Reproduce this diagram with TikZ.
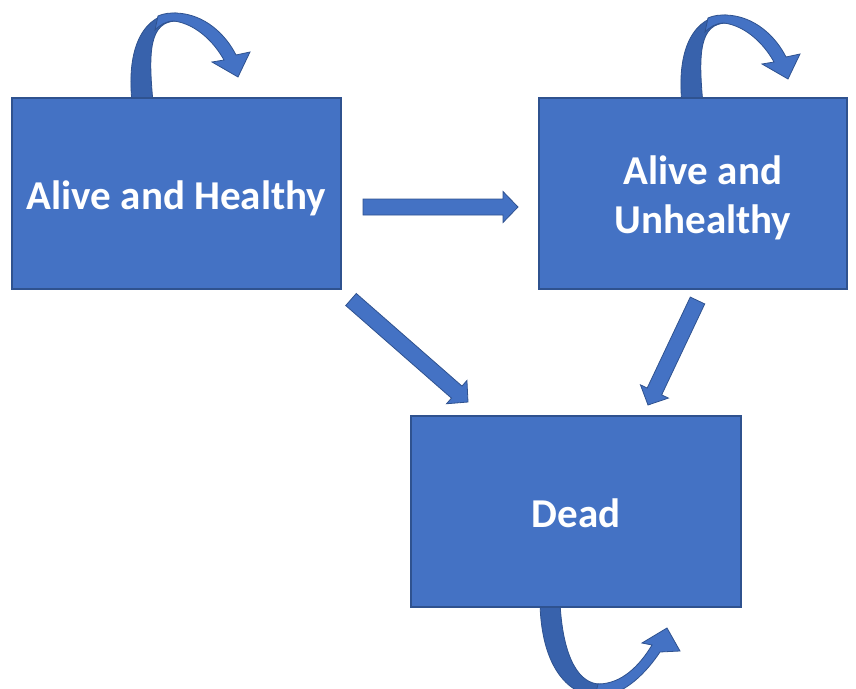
\documentclass[tikz,border=0pt]{standalone}
\usepackage{fontspec}
\setmainfont{Carlito}
\usetikzlibrary{calc}

\definecolor{boxblue}{HTML}{4472C4}
\definecolor{edgeblue}{HTML}{2F528F}
\definecolor{shadeblue}{HTML}{3862AC}

% block arrow from #1 to #2
\newcommand\blockarrow[2]{%
  \coordinate (#1-h) at ($(#2)!15pt!(#1)$);
  \draw[arrowbody] ($(#1)!8pt!90:(#2)$) -- ($(#1-h)!8pt!90:(#2)$)
    -- ($(#1-h)!15.5pt!90:(#2)$) -- (#2) -- ($(#1-h)!15.5pt!-90:(#2)$)
    -- ($(#1-h)!8pt!-90:(#2)$) -- ($(#1)!8pt!-90:(#2)$) -- cycle;}
% move a label down, keep its size
\newcommand\dropby[2]{\raisebox{-#1}[\height][\depth]{#2}}

\begin{document}
\begin{tikzpicture}[x=1pt,y=-1pt]

\tikzset{state/.style = {rectangle,draw=edgeblue,line width=1.2pt,fill=boxblue,text=white,
  font=\fontsize{41}{49}\selectfont\bfseries,align=center,minimum height=191pt,inner sep=0pt}}
\tikzset{arrowbody/.style = {draw=edgeblue,line width=0.8pt,fill=boxblue,line join=miter}}
\tikzset{loopleg/.style = {draw=edgeblue,line width=0.8pt,fill=shadeblue}}

\clip (0,0) rectangle (856,688);

% self loops
\foreach \dx/\dy in {0/0, 550/2} {
\begin{scope}[shift={(\dx,\dy)}]
\draw[loopleg] (132,102) .. controls (126,45) and (145,14) .. (176,13) -- (176,21)
  .. controls (150,22) and (148,50) .. (153,102) -- cycle;
\draw[arrowbody] (158,16) .. controls (165,13) and (170,13) .. (176,13)
  .. controls (205,14) and (226,35) .. (236,55) -- (250,52) -- (238,77) -- (212,62)
  -- (224,60) .. controls (214,42) and (196,24) .. (174,21)
  .. controls (166,21) and (160,25) .. (155,30) -- cycle;
\end{scope}
}
\draw[loopleg] (540,603) .. controls (541,655) and (560,695) .. (600,697) -- (600,684)
  .. controls (580,684) and (563,660) .. (560,603) -- cycle;
\draw[arrowbody] (595,697) .. controls (625,697) and (648,670) .. (660,652) -- (680,651)
  -- (667,628) -- (642,643) -- (652,645) .. controls (640,665) and (622,684) .. (598,684) -- cycle;

% states
\node[state,minimum width=329pt] (healthy) at (176.5,193.5) {\dropby{5pt}{Alive and Healthy}};
\node[state,minimum width=308pt] (unhealthy) at (693,193.5)
  {\hspace*{20pt}\dropby{4pt}{Alive and}\\\hspace*{20pt}\dropby{4pt}{Unhealthy}};
\node[state,minimum width=330pt] (dead) at (576,511.5) {\dropby{2pt}{Dead}};

% transitions
\coordinate (ah-au-s) at (363,207);
\coordinate (ah-au-t) at (518,207);
\coordinate (ah-d-s) at (351,299.5);
\coordinate (ah-d-t) at (468,402);
\coordinate (au-d-s) at (697.5,300.5);
\coordinate (au-d-t) at (648,405);

\blockarrow{ah-au-s}{ah-au-t}
\blockarrow{ah-d-s}{ah-d-t}
\blockarrow{au-d-s}{au-d-t}

\end{tikzpicture}
\end{document}
